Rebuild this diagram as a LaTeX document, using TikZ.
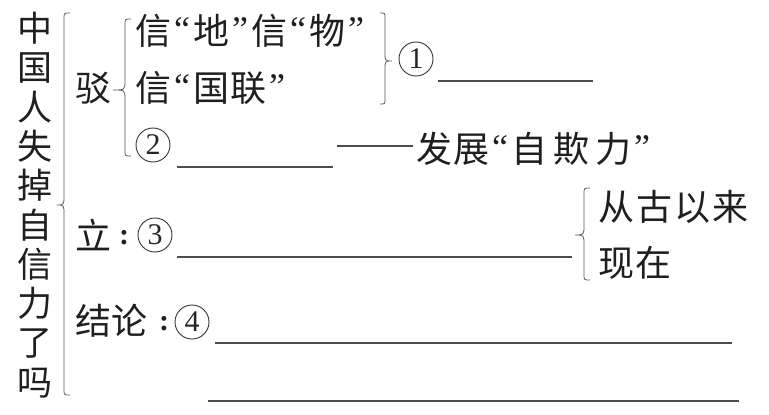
\documentclass[tikz,border=0pt]{standalone}
\usepackage{fontspec}
\newfontfamily\cjk{Noto Sans CJK SC}
\newfontfamily\qf{Liberation Serif}
\newcommand\myoq{\hspace{3pt}\raisebox{3pt}{\qf “}\hspace{3pt}}
\newcommand\mycq{\hspace{3pt}\raisebox{3pt}{\qf ”}\hspace{3pt}}
\newcommand\mkLbrace[7]{% x0, xtip, ytop, ybot, ytip, rcurl, rtip
  \draw[brc] ({#1+#6},#3) .. controls (#1,#3) .. (#1,{#3+#6}) -- (#1,{#5-#7})
    .. controls (#1,#5) .. (#2,#5) .. controls (#1,#5) .. (#1,{#5+#7})
    -- (#1,{#4-#6}) .. controls (#1,#4) .. ({#1+#6},#4);}
\newcommand\mkRbrace[7]{%
  \draw[brc] ({#1-#6},#3) .. controls (#1,#3) .. (#1,{#3+#6}) -- (#1,{#5-#7})
    .. controls (#1,#5) .. (#2,#5) .. controls (#1,#5) .. (#1,{#5+#7})
    -- (#1,{#4-#6}) .. controls (#1,#4) .. ({#1-#6},#4);}
\tikzset{
  txt/.style={inner sep=0pt, anchor=west, text=black!88,
    font=\cjk\fontsize{36}{36}\selectfont},
  circnum/.style={circle, draw=black!80, line width=0.9pt, minimum size=34pt,
    inner sep=0pt, text=black!85, font=\qf\fontsize{30}{30}\selectfont},
  colonmark/.style={inner sep=0pt, text=black!88, font=\qf\bfseries\fontsize{30}{30}\selectfont},
  blank/.style={line width=1.1pt, draw=black!70},
  brc/.style={line width=0.8pt, draw=black!65},
}
\begin{document}
\begin{tikzpicture}[x=1pt,y=-1pt]
\useasboundingbox (0,0) rectangle (769,415);
% title
\node[inner sep=0pt, align=center, text=black!88,
  font=\cjk\fontsize{35}{39.3}\selectfont] (title) at (35,205)
  {中\\国\\人\\失\\掉\\自\\信\\力\\了\\吗};
\mkLbrace{64}{57}{13}{395}{205}{6}{10}
% refute part
\node[txt] (bo) at (75,88) {驳};
\mkLbrace{125}{113}{19}{156}{90}{6}{10}
\node[txt] (a1) at (135,31) {信\myoq 地\mycq 信\myoq 物\mycq};
\node[txt] (a2) at (135,88) {信\myoq 国\hspace{1pt}联\mycq};
\node[circnum] (c2) at (153,145) {2};
\draw[blank] (177,167) -- (333,167);
\draw[blank] (337,146) -- (413,146);
\node[txt] (zq) at (416,149) {发\hspace{1pt}展\myoq 自\hspace{6pt}欺\hspace{6pt}力\mycq};
\mkRbrace{385}{392}{13}{104}{61}{5}{9}
\node[circnum] (c1) at (416,59) {1};
\draw[blank] (438,81) -- (593,81);
% establish part
\node[txt] (li) at (75,235) {立};
\node[colonmark] (licol) at (124,238) {:};
\node[circnum] (c3) at (155,235) {3};
\draw[blank] (177,257) -- (572,257);
\mkLbrace{584}{575}{188}{280}{235}{6}{10}
\node[txt] (gu) at (598,207) {从\hspace{2pt}古\hspace{2pt}以\hspace{2pt}来};
\node[txt] (xz) at (598,263) {现\hspace{1pt}在};
% conclusion
\node[txt] (jl) at (75,321) {结论};
\node[colonmark] (jlcol) at (164,324) {:};
\node[circnum] (c4) at (192,322) {4};
\draw[blank] (215,343) -- (732,343);
\draw[blank] (208,401) -- (739,401);
\end{tikzpicture}
\end{document}
